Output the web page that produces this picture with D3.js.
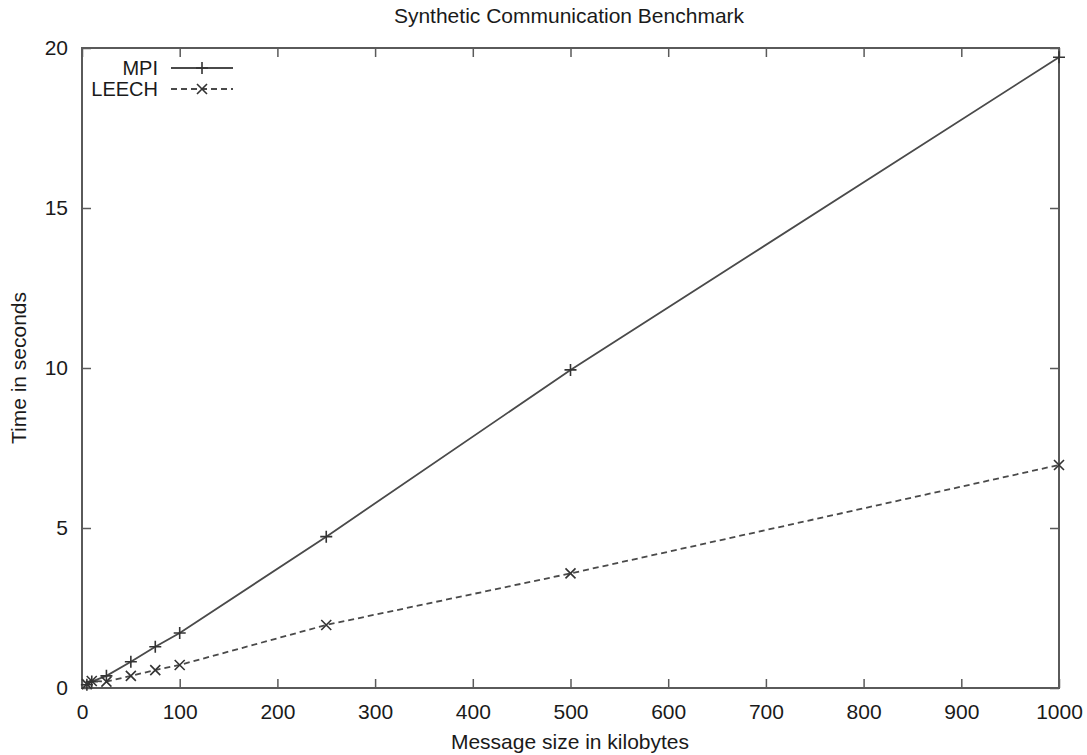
<!DOCTYPE html>
<html>
<head>
<meta charset="utf-8">
<script src="https://cdn.jsdelivr.net/npm/d3@7"></script>
<style>
  body { margin: 0; background: #fff; }
  text { font-family: "Liberation Sans", Arial, sans-serif; fill: #1a1a1a; }
</style>
</head>
<body>
<div id="container"></div>
<script>
/* CONSTANTS AND GLOBALS */
const width = 1087;
const height = 755;
const margin = { top: 48, right: 28, bottom: 67, left: 82 };

/* DATA */
const sizes = [5, 10, 25, 50, 75, 100, 250, 500, 1000];     // kilobytes
const mpiTimes = [0.1, 0.2, 0.38, 0.82, 1.29, 1.72, 4.73, 9.94, 19.71];
const leechTimes = [0.12, 0.22, 0.2, 0.38, 0.56, 0.72, 1.97, 3.58, 6.97];
const xTicks = [0, 100, 200, 300, 400, 500, 600, 700, 800, 900, 1000];
const yTicks = [0, 5, 10, 15, 20];

const series = [
  { name: "MPI", values: mpiTimes, dash: null, marker: "plus" },
  { name: "LEECH", values: leechTimes, dash: "6,4", marker: "cross" }
];

/* SCALES */
const xScale = d3.scaleLinear()
  .domain([0, 1000])
  .range([margin.left, width - margin.right]);

const yScale = d3.scaleLinear()
  .domain([0, 20])
  .range([height - margin.bottom, margin.top]);

/* HTML ELEMENTS */
const svg = d3.select("#container")
  .append("svg")
  .attr("width", width)
  .attr("height", height);

const frameColor = "#5a5a5a";
const lineColor = "#4a4a4a";
const tickLen = 9;
const fontSize = 21;

// ticks, mirrored on all four sides (gnuplot style)
const x0 = xScale.range()[0], x1 = xScale.range()[1];
const y0 = yScale.range()[0], y1 = yScale.range()[1];

svg.append("g")
  .attr("transform", `translate(0,${y0})`)
  .call(d3.axisBottom(xScale).tickValues(xTicks).tickFormat(d3.format("d")).tickSize(-tickLen).tickPadding(16))
  .call(g => g.select(".domain").remove())
  .call(g => g.selectAll("line").attr("stroke", frameColor).attr("stroke-width", 1.5))
  .call(g => g.selectAll("text").attr("font-size", fontSize).attr("fill", "#1a1a1a"));

svg.append("g")
  .attr("transform", `translate(0,${y1})`)
  .call(d3.axisTop(xScale).tickValues(xTicks).tickSize(-tickLen).tickFormat(""))
  .call(g => g.select(".domain").remove())
  .call(g => g.selectAll("line").attr("stroke", frameColor).attr("stroke-width", 1.5));

svg.append("g")
  .attr("transform", `translate(${x0},0)`)
  .call(d3.axisLeft(yScale).tickValues(yTicks).tickSize(-tickLen).tickPadding(14))
  .call(g => g.select(".domain").remove())
  .call(g => g.selectAll("line").attr("stroke", frameColor).attr("stroke-width", 1.5))
  .call(g => g.selectAll("text").attr("font-size", fontSize).attr("fill", "#1a1a1a"));

svg.append("g")
  .attr("transform", `translate(${x1},0)`)
  .call(d3.axisRight(yScale).tickValues(yTicks).tickSize(-tickLen).tickFormat(""))
  .call(g => g.select(".domain").remove())
  .call(g => g.selectAll("line").attr("stroke", frameColor).attr("stroke-width", 1.5));

// frame
svg.append("rect")
  .attr("x", x0).attr("y", y1)
  .attr("width", x1 - x0).attr("height", y0 - y1)
  .attr("fill", "none")
  .attr("stroke", frameColor)
  .attr("stroke-width", 2);

// lines
const line = d3.line()
  .x((d, i) => xScale(sizes[i]))
  .y(d => yScale(d));

const markerPath = (type, s) => type === "plus"
  ? `M${-s},0H${s}M0,${-s}V${s}`
  : `M${-s},${-s}L${s},${s}M${-s},${s}L${s},${-s}`;

series.forEach(s => {
  svg.append("path")
    .datum(s.values)
    .attr("d", line)
    .attr("fill", "none")
    .attr("stroke", lineColor)
    .attr("stroke-width", 1.8)
    .attr("stroke-dasharray", s.dash);

  svg.append("g").selectAll("path")
    .data(s.values)
    .join("path")
    .attr("transform", (d, i) => `translate(${xScale(sizes[i])},${yScale(d)})`)
    .attr("d", markerPath(s.marker, s.marker === "plus" ? 6 : 5))
    .attr("stroke", "#333")
    .attr("stroke-width", 1.6);
});

// legend
const legend = svg.append("g");
series.forEach((s, i) => {
  const ly = 68 + i * 21;
  legend.append("text")
    .attr("x", 158).attr("y", ly)
    .attr("dy", "0.35em")
    .attr("text-anchor", "end")
    .attr("font-size", 20)
    .text(s.name);
  legend.append("line")
    .attr("x1", 171).attr("x2", 233)
    .attr("y1", ly).attr("y2", ly)
    .attr("stroke", lineColor)
    .attr("stroke-width", 1.8)
    .attr("stroke-dasharray", s.dash);
  legend.append("path")
    .attr("transform", `translate(202,${ly})`)
    .attr("d", markerPath(s.marker, s.marker === "plus" ? 6 : 5))
    .attr("stroke", "#333")
    .attr("stroke-width", 1.6);
});

// title and axis labels
svg.append("text")
  .attr("x", 569).attr("y", 16)
  .attr("dy", "0.35em")
  .attr("text-anchor", "middle")
  .attr("font-size", fontSize)
  .text("Synthetic Communication Benchmark");

svg.append("text")
  .attr("x", 570).attr("y", 742)
  .attr("dy", "0.35em")
  .attr("text-anchor", "middle")
  .attr("font-size", fontSize)
  .text("Message size in kilobytes");

svg.append("text")
  .attr("transform", "translate(19,368) rotate(-90)")
  .attr("dy", "0.35em")
  .attr("text-anchor", "middle")
  .attr("font-size", fontSize)
  .text("Time in seconds");
</script>
</body>
</html>
